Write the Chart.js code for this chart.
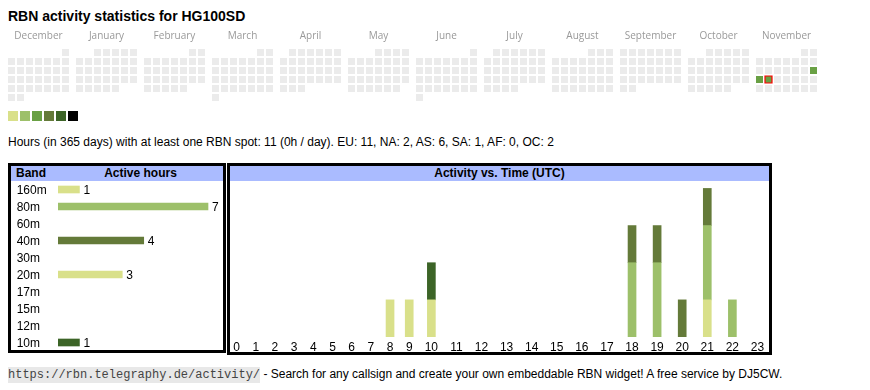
<!DOCTYPE html>
<html>
<head>
<meta charset="utf-8">
<script src="https://cdn.jsdelivr.net/npm/chart.js@4.4.1/dist/chart.umd.min.js"></script>
<style>
body { margin:0; width:870px; height:390px; position:relative; background:#fff; font-family: Arial, "Liberation Sans", sans-serif; color:#000; overflow:hidden; }
#title { position:absolute; left:8px; top:8px; font-weight:bold; font-size:14px; line-height:16px; white-space:nowrap; }
#calWrap { position:absolute; left:0; top:26px; width:870px; height:80px; }
#legend div { position:absolute; top:111px; width:10px; height:10px; }
#info { position:absolute; left:8px; top:135px; font-size:12px; line-height:14px; white-space:nowrap; }
.box { position:absolute; border:3px solid #000; box-sizing:border-box; }
.hdr { position:absolute; left:0; right:0; top:0; height:15px; background:#aabbff; font-weight:bold; font-size:12px; line-height:15px; white-space:nowrap; }
.box canvas { position:absolute; }
#footer { position:absolute; left:8px; top:367px; font-size:12px; line-height:14px; white-space:nowrap; }
#footer code { font-family:"Liberation Mono", "Courier New", monospace; font-size:12px; background:#e8e8e8; color:#444; padding:1px 0; }
</style>
</head>
<body>
<div id="title">RBN activity statistics for HG100SD</div>
<div id="calWrap"><canvas id="calChart" width="870" height="80"></canvas></div>
<div id="legend"></div>
<div id="info">Hours (in 365 days) with at least one RBN spot: 11 (0h / day). EU: 11, NA: 2, AS: 6, SA: 1, AF: 0, OC: 2</div>

<div class="box" style="left:8px; top:163px; width:218px; height:190px;">
  <div class="hdr"><span style="position:absolute; left:5px;">Band</span><span style="position:absolute; left:47px; width:165px; text-align:center;">Active hours</span></div>
  <canvas id="bandChart" width="212" height="170" style="left:0; top:15px;"></canvas>
</div>

<div class="box" style="left:227px; top:163px; width:545px; height:192px;">
  <div class="hdr" style="text-align:center;">Activity vs. Time (UTC)</div>
  <canvas id="hourChart" width="544" height="171" style="left:-3px; top:15px;"></canvas>
</div>

<div id="footer"><code>https://rbn.telegraphy.de/activity/</code> - Search for any callsign and create your own embeddable RBN widget! A free service by DJ5CW.</div>

<script>
// calendar
const monthNames = ['December', 'January', 'February', 'March', 'April', 'May', 'June', 'July', 'August', 'September', 'October', 'November'];
const firstYear = 2024, firstMonth = 11;
const activeDays = ['2025-11-16', '2025-11-17', '2025-11-18'];
const activeLevels = [3, 3, 3];
const today = '2025-11-18';
const levelColors = ['#d9e08a', '#9dc06a', '#69a044', '#647a39', '#3c6427', '#000000'];
const emptyColor = '#ebebeb';

// bands + hours
const bands = ['160m', '80m', '60m', '40m', '30m', '20m', '17m', '15m', '12m', '10m'];
const bandHours = [1, 7, 0, 4, 0, 3, 0, 0, 0, 1];
const bandColors = ['#d9e08a', '#9dc06a', '#9dc06a', '#647a39', '#647a39', '#d9e08a', '#d9e08a', '#d9e08a', '#3c6427', '#3c6427'];
const hourLabels = ['0', '1', '2', '3', '4', '5', '6', '7', '8', '9', '10', '11', '12', '13', '14', '15', '16', '17', '18', '19', '20', '21', '22', '23'];
//                 0  1  2  3  4  5  6  7  8  9 10 11 12 13 14 15 16 17 18 19 20 21 22 23
const hours160m = [0, 0, 0, 0, 0, 0, 0, 0, 0, 0, 0, 0, 0, 0, 0, 0, 0, 0, 0, 0, 0, 1, 0, 0];
const hours80m  = [0, 0, 0, 0, 0, 0, 0, 0, 0, 0, 0, 0, 0, 0, 0, 0, 0, 0, 2, 2, 0, 2, 1, 0];
const hours40m  = [0, 0, 0, 0, 0, 0, 0, 0, 0, 0, 0, 0, 0, 0, 0, 0, 0, 0, 1, 1, 1, 1, 0, 0];
const hours20m  = [0, 0, 0, 0, 0, 0, 0, 0, 1, 1, 1, 0, 0, 0, 0, 0, 0, 0, 0, 0, 0, 0, 0, 0];
const hours10m  = [0, 0, 0, 0, 0, 0, 0, 0, 0, 0, 1, 0, 0, 0, 0, 0, 0, 0, 0, 0, 0, 0, 0, 0];
const hourSeries = {'160m': hours160m, '80m': hours80m, '40m': hours40m, '20m': hours20m, '10m': hours10m};

// empty values -> no bar at all (otherwise chart.js leaves a hairline)
const noZero = arr => arr.map(v => v || null);

const legendBox = document.getElementById('legend');
levelColors.forEach((c, i) => {
    const d = document.createElement('div');
    d.style.left = (8 + 12 * i) + 'px';
    d.style.background = c;
    legendBox.appendChild(d);
});

// ---- calendar chart: one month = 7 weekday columns, rows = weeks
const blockCols = 68 / 9;
const pad2 = n => (n < 10 ? '0' : '') + n;
const calPoints = [], calFill = [], calBorder = [], calBorderW = [];
monthNames.forEach((name, m) => {
    const y = firstYear + Math.floor((firstMonth + m) / 12);
    const mo = (firstMonth + m) % 12;
    const first = (new Date(y, mo, 1).getDay() + 6) % 7;
    const nDays = new Date(y, mo + 1, 0).getDate();
    for (let d = 1; d <= nDays; d++) {
        const wd = (first + d - 1) % 7;
        const row = Math.floor((first + d - 1) / 7);
        const key = y + '-' + pad2(mo + 1) + '-' + pad2(d);
        const k = activeDays.indexOf(key);
        calPoints.push({x: m * blockCols + wd, y: row});
        calFill.push(k >= 0 ? levelColors[activeLevels[k] - 1] : emptyColor);
        calBorder.push(key === today ? '#ff0000' : 'rgba(0,0,0,0)');
        calBorderW.push(key === today ? 1.2 : 0);
    }
});

const monthLabelPlugin = {
    id: 'monthLabels',
    afterDraw(chart) {
        const ctx = chart.ctx, xs = chart.scales.x;
        ctx.save();
        ctx.font = '10px "Open Sans", sans-serif';
        ctx.fillStyle = '#999999';
        ctx.textAlign = 'center';
        ctx.textBaseline = 'alphabetic';
        monthNames.forEach((n, m) => ctx.fillText(n, xs.getPixelForValue(m * blockCols + 3), 12.7));
        ctx.restore();
    }
};

new Chart(document.getElementById('calChart'), {
    type: 'scatter',
    data: {datasets: [{
        data: calPoints,
        pointStyle: 'rect',
        pointRadius: 4.95,
        pointBackgroundColor: calFill,
        pointBorderColor: calBorder,
        pointBorderWidth: calBorderW
    }]},
    options: {
        responsive: false, animation: false, events: [],
        layout: {padding: 0, autoPadding: false},
        plugins: {legend: {display: false}, tooltip: {enabled: false}},
        scales: {
            x: {type: 'linear', display: false, min: -1.2778, max: 95.389},
            y: {type: 'linear', display: false, reverse: true, min: -2.944, max: 5.944}
        }
    },
    plugins: [monthLabelPlugin]
});

// ---- band chart
const valueLabelPlugin = {
    id: 'valueLabels',
    afterDatasetsDraw(chart) {
        const ctx = chart.ctx;
        ctx.save();
        ctx.font = '12px Arial, "Liberation Sans", sans-serif';
        ctx.fillStyle = '#000';
        ctx.textBaseline = 'middle';
        chart.getDatasetMeta(0).data.forEach((bar, i) => {
            const v = chart.data.datasets[0].data[i];
            if (v > 0) ctx.fillText(String(v), bar.x + 4, bar.y + 1.2);
        });
        ctx.restore();
    }
};

new Chart(document.getElementById('bandChart'), {
    type: 'bar',
    data: {labels: bands, datasets: [{data: noZero(bandHours), backgroundColor: bandColors, barThickness: 7, borderWidth: 0}]},
    options: {
        indexAxis: 'y', responsive: false, animation: false, events: [],
        layout: {padding: {left: 5.7, right: 0, top: 0, bottom: 0}, autoPadding: false},
        plugins: {legend: {display: false}, tooltip: {enabled: false}},
        scales: {
            y: {
                grid: {display: false, drawTicks: false}, border: {display: false},
                ticks: {autoSkip: false, crossAlign: 'far', padding: 0, labelOffset: 1, color: '#000', font: {family: 'Arial', size: 12}},
                afterFit(s) { s.width = 41.3; s.paddingTop = 0; s.paddingBottom = 0; }
            },
            x: {display: false, min: 0, max: 7.7}
        }
    },
    plugins: [valueLabelPlugin]
});

// ---- hour chart: columns get wider for 2-digit hours, like the html table
class HourScale extends Chart.CategoryScale {
    colWeights() {
        return this.getLabels().map(l => String(l).length + 2.25);
    }
    getPixelForValue(value) {
        if (typeof value !== 'number') value = this.parse(value);
        if (value === null || isNaN(value)) return NaN;
        const w = this.colWeights();
        const total = w.reduce((a, b) => a + b, 0);
        const i = Math.max(0, Math.min(w.length - 1, Math.round(value)));
        let acc = 0;
        for (let k = 0; k < i; k++) acc += w[k];
        acc += w[i] / 2 + (value - i) * w[i];
        return this.left + acc / total * this.width;
    }
}
HourScale.id = 'hour';
HourScale.defaults = {ticks: {callback: function (v) { return this.getLabelForValue(v); }}};
Chart.register(HourScale);

new Chart(document.getElementById('hourChart'), {
    type: 'bar',
    data: {
        labels: hourLabels,
        datasets: bands.filter(b => hourSeries[b]).map(b => ({
            label: b,
            data: noZero(hourSeries[b]),
            backgroundColor: bandColors[bands.indexOf(b)],
            barThickness: 8,
            borderWidth: 0
        }))
    },
    options: {
        responsive: false, animation: false, events: [],
        layout: {padding: {left: 0, right: 1, top: 0, bottom: 0}},
        plugins: {legend: {display: false}, tooltip: {enabled: false}},
        scales: {
            x: {
                type: 'hour', stacked: true,
                grid: {display: false, drawTicks: false}, border: {display: false},
                ticks: {autoSkip: false, maxRotation: 0, padding: 3, color: '#000', font: {family: 'Arial', size: 12}},
                afterFit(s) { s.height = 15; }
            },
            y: {stacked: true, display: false, min: 0, max: 4.2}
        }
    }
});
</script>
</body>
</html>
